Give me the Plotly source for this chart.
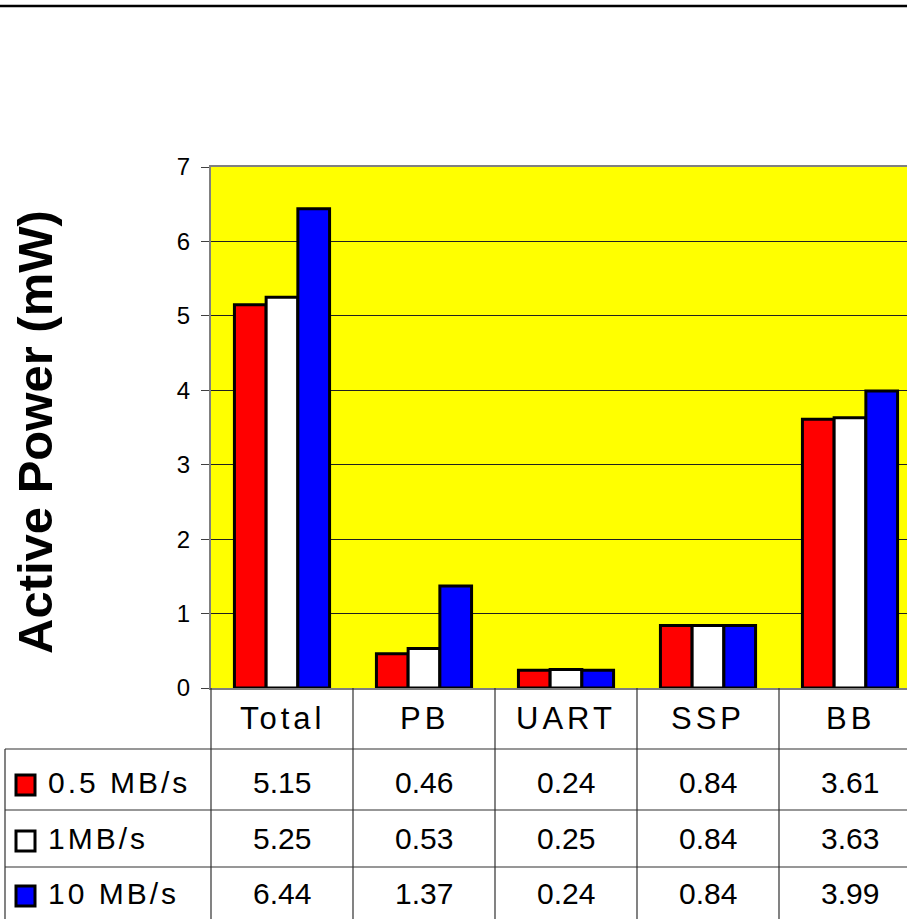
import plotly.graph_objects as go

# ---- data -------------------------------------------------------------
categories = ["Total", "PB", "UART", "SSP", "BB"]
series_names = ["0.5 MB/s", "1MB/s", "10 MB/s"]
rate_05 = [5.15, 0.46, 0.24, 0.84, 3.61]
rate_1 = [5.25, 0.53, 0.25, 0.84, 3.63]
rate_10 = [6.44, 1.37, 0.24, 0.84, 3.99]
series_colors = ["#FF0000", "#FFFFFF", "#0000FF"]
y_ticks = [0, 1, 2, 3, 4, 5, 6, 7]

series_values = [rate_05, rate_1, rate_10]

# ---- page geometry (pixels) ------------------------------------------
W, H = 907, 919
PLOT_L, PLOT_T, PLOT_B = 211, 167, 688
COL_W = 142                      # width of one category column
X_MIN = -0.5
X_MAX = X_MIN + (W - PLOT_L) / COL_W
FONT = "Liberation Sans, Arial, sans-serif"


def px_x(p):
    return (p - PLOT_L) / (W - PLOT_L)


def px_y(p):
    return (PLOT_B - p) / (PLOT_B - PLOT_T)


def cat_x(v):
    return (v - X_MIN) / (X_MAX - X_MIN)


def spaced(txt, px):
    return f'<span style="letter-spacing:{px}px">{txt}</span>'


fig = go.Figure()
for name, vals, col in zip(series_names, series_values, series_colors):
    fig.add_trace(go.Bar(
        x=list(range(len(categories))), y=vals, name=name,
        marker=dict(color=col, line=dict(color="black", width=3)),
        showlegend=False,
    ))

shapes = []
annotations = []

# heavy rule across the top of the page
shapes.append(dict(type="line", xref="paper", yref="paper",
                   x0=px_x(0), x1=px_x(W), y0=px_y(6), y1=px_y(6),
                   line=dict(color="black", width=2.5)))

# data table below the plot
line_col = "#303030"
row_lines = [749, 810, 867]
for yy in row_lines:
    shapes.append(dict(type="line", xref="paper", yref="paper",
                       x0=px_x(5), x1=px_x(W), y0=px_y(yy), y1=px_y(yy),
                       line=dict(color=line_col, width=1.2)))
shapes.append(dict(type="line", xref="paper", yref="paper",
                   x0=px_x(5), x1=px_x(5), y0=px_y(749), y1=px_y(H),
                   line=dict(color=line_col, width=1.2)))
for i in range(len(categories)):
    bx = cat_x(i - 0.5)
    shapes.append(dict(type="line", xref="paper", yref="paper",
                       x0=bx, x1=bx, y0=px_y(PLOT_B), y1=px_y(H),
                       line=dict(color=line_col, width=1.2)))

header_y = 718
row_y = [782, 838, 893]
for i, cat in enumerate(categories):
    annotations.append(dict(xref="paper", yref="paper", x=cat_x(i), y=px_y(header_y),
                            text=spaced(cat, 4), showarrow=False,
                            xanchor="center", yanchor="middle",
                            font=dict(family=FONT, size=31, color="black")))
    for r, vals in enumerate(series_values):
        annotations.append(dict(xref="paper", yref="paper", x=cat_x(i), y=px_y(row_y[r]),
                                text=f"{vals[i]:.2f}", showarrow=False,
                                xanchor="center", yanchor="middle",
                                font=dict(family=FONT, size=30, color="black")))

# legend keys in the first table column
for r, (name, col) in enumerate(zip(series_names, series_colors)):
    cy = row_y[r] + 3
    shapes.append(dict(type="rect", xref="paper", yref="paper",
                       x0=px_x(16), x1=px_x(35), y0=px_y(cy - 10), y1=px_y(cy + 10),
                       fillcolor=col, line=dict(color="black", width=3)))
    annotations.append(dict(xref="paper", yref="paper", x=px_x(46), y=px_y(row_y[r]),
                            text=spaced(name, 3), showarrow=False,
                            xanchor="left", yanchor="middle",
                            font=dict(family=FONT, size=30, color="black")))

# rotated value-axis title
annotations.append(dict(xref="paper", yref="paper", x=px_x(35), y=px_y(432),
                        text="<b>Active Power (mW)</b>", textangle=-90, showarrow=False,
                        xanchor="center", yanchor="middle",
                        font=dict(family=FONT, size=49, color="black")))

fig.update_layout(
    width=W, height=H,
    margin=dict(l=PLOT_L, r=0, t=PLOT_T, b=H - PLOT_B, pad=0),
    paper_bgcolor="white", plot_bgcolor="#FFFF00",
    barmode="group", bargap=0.33, bargroupgap=0,
    shapes=shapes, annotations=annotations,
    font=dict(family=FONT, color="black"),
)
fig.update_xaxes(range=[X_MIN, X_MAX], showticklabels=False, ticks="",
                 showgrid=False, zeroline=False,
                 showline=True, mirror=True, linecolor="#808080", linewidth=2)
fig.update_yaxes(range=[0, 7], tickvals=y_ticks, ticks="outside", ticklen=8,
                 tickcolor="#404040", tickwidth=1, ticklabelstandoff=6,
                 tickfont=dict(family=FONT, size=24, color="black"),
                 showgrid=True, gridcolor="#202020", gridwidth=1, zeroline=False,
                 showline=True, linecolor="#808080", linewidth=2)

fig.write_html("out.html")
